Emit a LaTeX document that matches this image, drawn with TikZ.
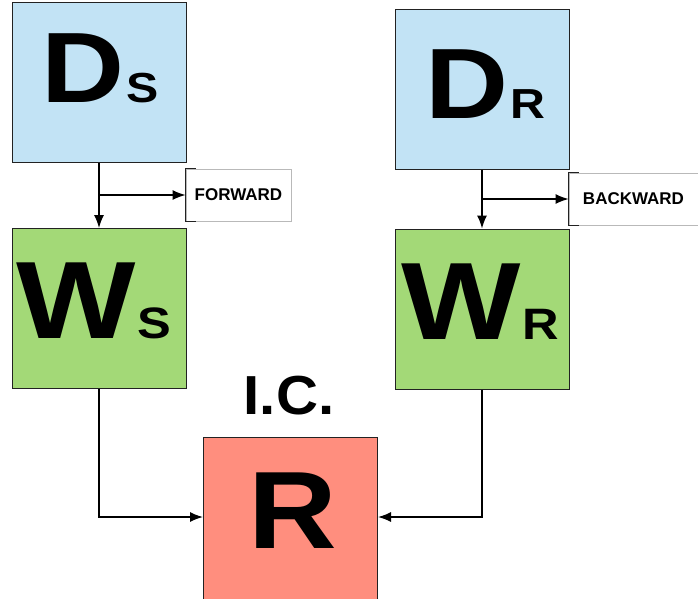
\documentclass[tikz,border=0pt]{standalone}
\usepackage{fontspec}
\setmainfont{Liberation Sans}
\usetikzlibrary{arrows.meta}
\definecolor{dblue}{HTML}{C2E3F5}
\definecolor{wgreen}{HTML}{A3D977}
\definecolor{rsalmon}{HTML}{FF8E7E}
\definecolor{edge}{HTML}{222222}
\newcommand\bigletter[2]{{\fontsize{#1}{#1}\selectfont\bfseries #2}}
\newcommand\subletter[2]{{\fontsize{#1}{#1}\selectfont\bfseries #2}}
\begin{document}
\begin{tikzpicture}[x=1pt,y=-1pt,
  box/.style={draw=edge,line width=1pt,minimum width=174pt,minimum height=160pt,inner sep=0pt},
  lbl/.style={anchor=base,inner sep=0pt,xscale=1.15},
  conn/.style={draw=black,line width=1.4pt,-{Latex[length=13pt,width=10pt]}},
  note/.style={draw=gray!55,line width=0.8pt,inner sep=0pt,minimum height=52pt,font=\bfseries\fontsize{17}{17}\selectfont},
  brk/.style={draw=edge,line width=1.2pt}]
\useasboundingbox (0,0) rectangle (698,598);
\node[box,fill=dblue] (ds) at (99,82) {};
\node[box,fill=dblue] (dr) at (482,89) {};
\node[box,fill=wgreen] (ws) at (99,308.5) {};
\node[box,fill=wgreen] (wr) at (482,309) {};
\node[box,fill=rsalmon,minimum height=176pt] (r) at (290.5,525) {};
\coordinate (rin) at (290,517);
% labels
\node[lbl] (dst) at (100.5,102) {\bigletter{100}{D}\,\subletter{42}{S}};
\node[lbl] (drt) at (485,118) {\bigletter{100}{D}\,\subletter{42}{R}};
\node[lbl] (wst) at (94,338) {\bigletter{110}{W}\,\subletter{44}{S}};
\node[lbl] (wrt) at (480.5,339) {\bigletter{110}{W}\,\subletter{44}{R}};
\node[lbl,xscale=0.97] (rt) at (293,548) {\bigletter{110}{R}};
\node[lbl,xscale=0.92] (ic) at (289,414) {\bigletter{55}{I.C.}};
% notes
\node[note,minimum width=105pt] (fwd) at (238.5,195) {FORWARD};
\node[note,minimum width=140pt] (bwd) at (639,199) {};
\node[inner sep=0pt,font=\bfseries\fontsize{17}{17}\selectfont] (bwdt) at (633.5,199) {BACKWARD};
\draw[brk] ([xshift=10pt]fwd.north west) -- (fwd.north west) -- (fwd.south west) -- ([xshift=10pt]fwd.south west);
\draw[brk] ([xshift=10pt]bwd.north west) -- (bwd.north west) -- (bwd.south west) -- ([xshift=10pt]bwd.south west);
% connectors
\draw[conn] (ds) -- (ws);
\draw[conn] (dr) -- (wr);
\draw[conn] (ds.south |- fwd.west) -- (fwd.west);
\draw[conn] (dr.south |- bwd.west) -- (bwd.west);
\draw[conn] (ws.south) |- (r.west |- rin);
\draw[conn] (wr.south) |- (r.east |- rin);
\end{tikzpicture}
\end{document}
